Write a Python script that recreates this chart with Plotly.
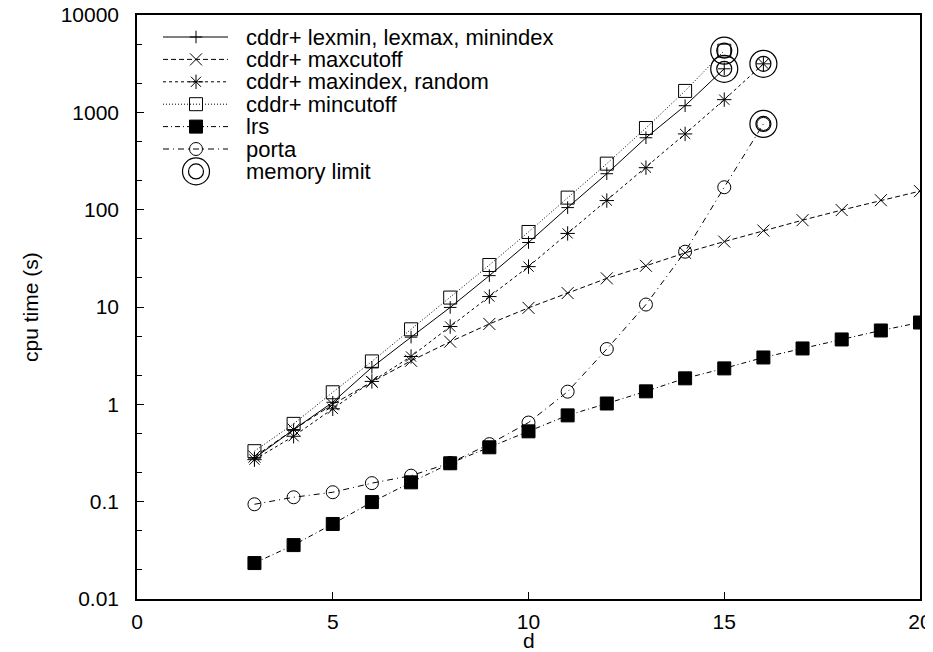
import plotly.graph_objects as go

# ---------------- data ----------------
d_lexmin = [3, 4, 5, 6, 7, 8, 9, 10, 11, 12, 13, 14, 15]
t_lexmin = [0.28, 0.55, 1.05, 2.4, 4.9, 9.9, 21, 46, 105, 234, 548, 1170, 2800]

d_maxcutoff = list(range(3, 21))
t_maxcutoff = [0.29, 0.55, 1.0, 1.7, 2.8, 4.4, 6.7, 9.8, 13.9, 19.7, 26.5, 36, 47, 61, 78, 99, 125, 155]

d_maxindex = list(range(3, 17))
t_maxindex = [0.27, 0.47, 0.90, 1.72, 3.1, 6.3, 12.8, 26, 57, 124, 270, 600, 1350, 3150]

d_mincutoff = list(range(3, 16))
t_mincutoff = [0.33, 0.63, 1.33, 2.76, 5.9, 12.5, 27, 59, 133, 297, 690, 1660, 4300]

d_lrs = list(range(3, 21))
t_lrs = [0.0234, 0.0358, 0.059, 0.099, 0.158, 0.248, 0.362, 0.528, 0.77, 1.02,
         1.36, 1.85, 2.34, 3.03, 3.75, 4.64, 5.74, 6.93]

d_porta = list(range(3, 17))
t_porta = [0.094, 0.111, 0.125, 0.155, 0.185, 0.25, 0.39, 0.65, 1.35, 3.7, 10.6, 37, 170, 760]

d_memory = [15, 15, 16, 16]
t_memory = [4300, 2800, 3150, 760]

series_names = ["cddr+ lexmin, lexmax, minindex", "cddr+ maxcutoff", "cddr+ maxindex, random",
                "cddr+ mincutoff", "lrs", "porta", "memory limit"]

x_ticks = [0, 5, 10, 15, 20]
y_ticks = [0.01, 0.1, 1, 10, 100, 1000, 10000]
y_tick_text = ["0.01", "0.1", "1", "10", "100", "1000", "10000"]

# ---------------- styles ----------------
FONT = "Liberation Sans, Arial, Helvetica, sans-serif"
BLACK = "#000000"
styles = [
    dict(dash="solid", symbol="cross-thin-open", size=9),
    dict(dash="5px,3px", symbol="x-thin-open", size=12),
    dict(dash="3px,3px", symbol="asterisk-open", size=12),
    dict(dash="1px,2px", symbol="square-open", size=13),
    dict(dash="5px,3px,1px,3px", symbol="square", size=13),
    dict(dash="6px,4px,1px,4px", symbol="circle-open", size=13),
]
series = [(d_lexmin, t_lexmin), (d_maxcutoff, t_maxcutoff), (d_maxindex, t_maxindex),
          (d_mincutoff, t_mincutoff), (d_lrs, t_lrs), (d_porta, t_porta)]

fig = go.Figure()

for (xs, ys), st, nm in zip(series, styles, series_names):
    fig.add_trace(go.Scatter(
        x=xs, y=ys, mode="lines+markers", name=nm, showlegend=False,
        line=dict(color=BLACK, width=1, dash=st["dash"]),
        marker=dict(symbol=st["symbol"], size=st["size"], color=BLACK,
                    line=dict(color=BLACK, width=1)),
    ))

for sz in (27, 15):
    fig.add_trace(go.Scatter(
        x=d_memory, y=t_memory, mode="markers", name="memory limit", showlegend=False,
        marker=dict(symbol="circle-open", size=sz, color=BLACK, line=dict(color=BLACK, width=1.2)),
    ))

# ---------------- geometry (window pixels; page body adds an 8px offset) ----------------
OFF = 8
W, H = 933 - OFF, 652 - OFF
L, R, T, B = 137, 920, 15, 599          # plot box in window pixels
row0, row_gap = 37, 22.4
line_x0, line_x1, mark_x, text_x = 163, 228, 196, 244

# ---------------- hand-built legend on an overlay pixel axis ----------------
for i, nm in enumerate(series_names):
    yy = row0 + row_gap * i
    if i < len(styles):
        st = styles[i]
        fig.add_trace(go.Scatter(
            x=[line_x0, line_x1], y=[yy, yy], mode="lines", xaxis="x2", yaxis="y2",
            showlegend=False, hoverinfo="skip",
            line=dict(color=BLACK, width=1, dash=st["dash"])))
        fig.add_trace(go.Scatter(
            x=[mark_x], y=[yy], mode="markers", xaxis="x2", yaxis="y2",
            showlegend=False, hoverinfo="skip",
            marker=dict(symbol=st["symbol"], size=st["size"], color=BLACK,
                        line=dict(color=BLACK, width=1))))
    else:
        for sz in (27, 15):
            fig.add_trace(go.Scatter(
                x=[mark_x], y=[yy], mode="markers", xaxis="x2", yaxis="y2",
                showlegend=False, hoverinfo="skip",
                marker=dict(symbol="circle-open", size=sz, color=BLACK,
                            line=dict(color=BLACK, width=1.2))))
    fig.add_annotation(x=text_x, y=yy, xref="x2", yref="y2", text=nm, showarrow=False,
                       xanchor="left", yanchor="middle",
                       font=dict(family=FONT, size=22, color=BLACK))

# axis titles
fig.add_annotation(x=(30 - L) / (R - L), y=0.5, xref="paper", yref="paper",
                   text="cpu time (s)", textangle=-90, showarrow=False,
                   xanchor="center", yanchor="middle",
                   font=dict(family=FONT, size=21, color=BLACK))
fig.add_annotation(x=0.5, y=(B - 640) / (B - T), xref="paper", yref="paper",
                   text="d", showarrow=False, xanchor="center", yanchor="middle",
                   font=dict(family=FONT, size=21, color=BLACK))

minor_vals = [m * 10 ** e for e in range(-2, 4) for m in (2, 5)]

fig.update_layout(
    width=W, height=H,
    margin=dict(l=L - OFF, r=W - (R - OFF), t=T - OFF, b=H - (B - OFF), pad=0),
    paper_bgcolor="white", plot_bgcolor="white",
    font=dict(family=FONT, size=21, color=BLACK),
    showlegend=False,
    xaxis=dict(
        range=[0, 20], tickvals=x_ticks, ticks="inside", ticklen=7, tickwidth=1,
        tickcolor=BLACK, showline=True, linecolor=BLACK, linewidth=1.5, mirror=True,
        showgrid=False, zeroline=False, ticklabelstandoff=3, automargin=False,
        ticklabeloverflow="allow",
        tickfont=dict(family=FONT, size=21, color=BLACK),
    ),
    yaxis=dict(
        type="log", range=[-2, 4], tickvals=y_ticks, ticktext=y_tick_text,
        ticks="inside", ticklen=7, tickwidth=1, tickcolor=BLACK,
        minor=dict(tickvals=minor_vals, ticks="inside", ticklen=5, tickcolor=BLACK, showgrid=False),
        showline=True, linecolor=BLACK, linewidth=1.5, mirror=True,
        showgrid=False, zeroline=False, ticklabelstandoff=12, automargin=False,
        ticklabeloverflow="allow",
        tickfont=dict(family=FONT, size=21, color=BLACK),
    ),
    xaxis2=dict(overlaying="x", range=[L, R], visible=False, fixedrange=True, automargin=False),
    yaxis2=dict(overlaying="y", range=[B, T], visible=False, fixedrange=True, automargin=False),
)

fig.write_html("out.html")
